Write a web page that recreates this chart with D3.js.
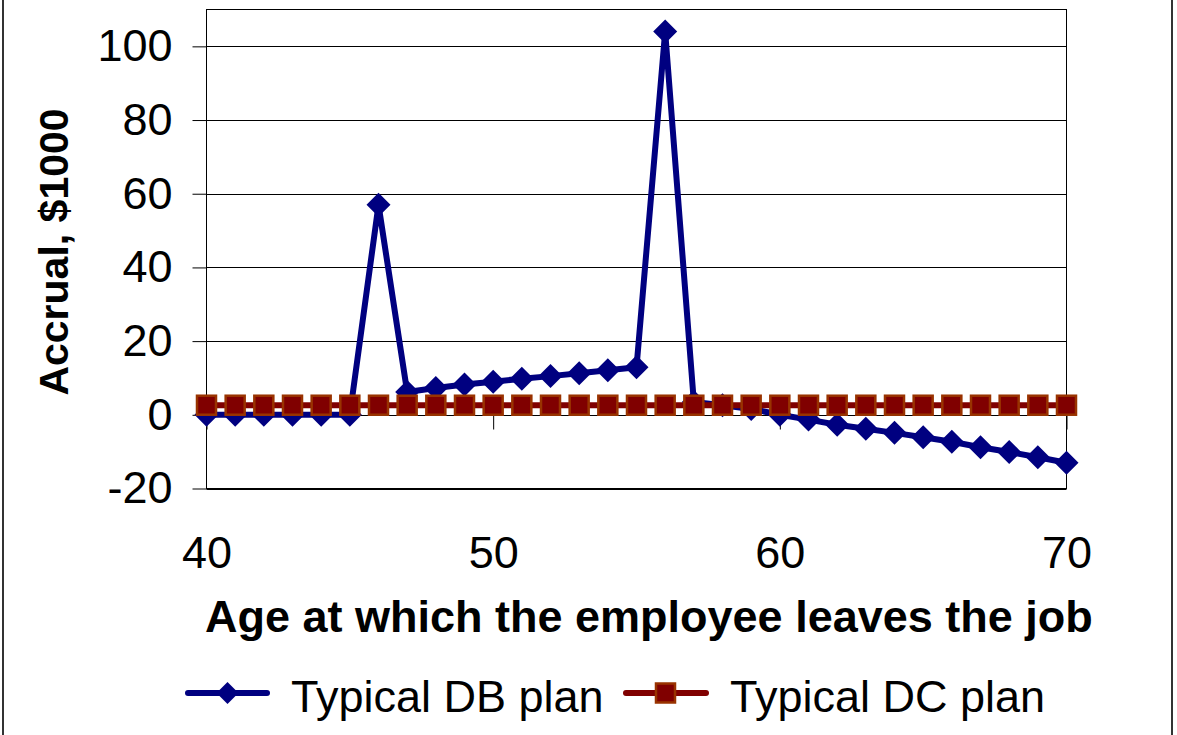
<!DOCTYPE html>
<html>
<head>
<meta charset="utf-8">
<script src="https://cdn.jsdelivr.net/npm/d3@7"></script>
<style>
  html, body { margin: 0; padding: 0; background: #fff; }
  svg { display: block; font-family: "Liberation Sans", Arial, sans-serif; }
</style>
</head>
<body>
<svg id="chart" width="1177" height="735"></svg>
<script>
// ---- data ----
const ages = [40,41,42,43,44,45,46,47,48,49,50,51,52,53,54,55,56,57,58,59,60,61,62,63,64,65,66,67,68,69,70];
const dbValues = [0,0,0,0,0,0,57,6.2,7.3,8.2,9.0,9.8,10.5,11.3,12.1,12.9,104,3.5,2.6,1.6,0,-1.3,-2.7,-3.8,-4.9,-6.1,-7.3,-8.8,-10.1,-11.5,-13];
const dcValues = [2.6,2.6,2.6,2.6,2.6,2.6,2.6,2.6,2.6,2.6,2.6,2.6,2.6,2.6,2.6,2.6,2.6,2.6,2.6,2.6,2.6,2.6,2.6,2.6,2.6,2.6,2.6,2.6,2.6,2.6,2.6];
const xTicks = [40,50,60,70];
const yTicks = [-20,0,20,40,60,80,100];
const seriesNames = ["Typical DB plan","Typical DC plan"];
const xTitle = "Age at which the employee leaves the job";
const yTitle = "Accrual, $1000";

// ---- layout ----
const svg = d3.select("#chart");
const L = 206.5, R = 1066.5, T = 9.5, B = 488.5;
const x = d3.scaleLinear().domain([40,70]).range([L,R]);
const y = d3.scaleLinear().domain([-20,110]).range([B,T]);

const navy = "#000080", maroon = "#800000", brown = "#993300";
const fmt = d => String(d);

// outer border
svg.append("rect").attr("x",3).attr("y",-10).attr("width",1169).attr("height",760)
  .attr("fill","none").attr("stroke","#333").attr("stroke-width",2);

// gridlines
svg.append("g").selectAll("line").data(yTicks).join("line")
  .attr("x1",L).attr("x2",R)
  .attr("y1",d=>Math.round(y(d))+0.5).attr("y2",d=>Math.round(y(d))+0.5)
  .attr("stroke","#000").attr("stroke-width",1);

// plot border
svg.append("rect").attr("x",L).attr("y",T).attr("width",R-L).attr("height",B-T)
  .attr("fill","none").attr("stroke","#000").attr("stroke-width",1);

// y axis
const yAxis = svg.append("g").attr("transform",`translate(${L},0)`)
  .call(d3.axisLeft(y).tickValues(yTicks).tickSize(14).tickPadding(20).tickFormat(fmt));
yAxis.select(".domain").remove();
yAxis.selectAll(".tick line").attr("stroke","#000");
yAxis.selectAll("text").attr("font-size",45).attr("fill","#000").attr("font-family","Liberation Sans, Arial, sans-serif");

// x axis line at y=0 with ticks
const xAxisLine = svg.append("g").attr("transform",`translate(0,${Math.round(y(0))+0.5})`)
  .call(d3.axisBottom(x).tickValues(xTicks).tickSize(14).tickFormat(""));
xAxisLine.select(".domain").attr("stroke","#000").attr("d",`M${L},0H${R}`);
xAxisLine.selectAll(".tick line").attr("stroke","#000");

// x labels at bottom
const xAxisLabels = svg.append("g").attr("transform",`translate(0,${B})`)
  .call(d3.axisBottom(x).tickValues(xTicks).tickSize(0).tickPadding(48).tickFormat(fmt));
xAxisLabels.select(".domain").remove();
xAxisLabels.selectAll("text").attr("font-size",45).attr("fill","#000").attr("font-family","Liberation Sans, Arial, sans-serif");

// titles
svg.append("text").attr("x",205).attr("y",632).attr("font-size",45).attr("font-weight","bold")
  .attr("fill","#000").text(xTitle);
svg.append("text").attr("transform",`translate(68,${(T+B)/2+3}) rotate(-90)`)
  .attr("text-anchor","middle").attr("font-size",41).attr("font-weight","bold")
  .attr("fill","#000").text(yTitle);

// series
function diamondPath(cx, cy, r) {
  return `M${cx},${cy-r}L${cx+r},${cy}L${cx},${cy+r}L${cx-r},${cy}Z`;
}
const line = d3.line().x((d,i)=>x(ages[i])).y(d=>y(d));

const gDB = svg.append("g");
gDB.append("path").attr("d",line(dbValues)).attr("fill","none")
  .attr("stroke",navy).attr("stroke-width",6).attr("stroke-linejoin","round");
gDB.selectAll("path.m").data(dbValues).join("path").attr("class","m")
  .attr("d",(d,i)=>diamondPath(x(ages[i]), y(d), 12)).attr("fill",navy);

const gDC = svg.append("g");
gDC.append("path").attr("d",line(dcValues)).attr("fill","none")
  .attr("stroke",maroon).attr("stroke-width",6);
gDC.selectAll("rect").data(dcValues).join("rect")
  .attr("x",(d,i)=>x(ages[i])-9.5).attr("y",d=>y(d)-9.5)
  .attr("width",19).attr("height",19)
  .attr("fill",maroon).attr("stroke",brown).attr("stroke-width",2.5);

// legend
const ly = 693;
const lg = svg.append("g");
lg.append("line").attr("x1",188).attr("x2",267).attr("y1",ly).attr("y2",ly)
  .attr("stroke",navy).attr("stroke-width",6).attr("stroke-linecap","round");
lg.append("path").attr("d",diamondPath(227.5, ly, 11)).attr("fill",navy);
lg.append("text").attr("x",291).attr("y",712).attr("font-size",45).attr("fill","#000").text(seriesNames[0]);

lg.append("line").attr("x1",626).attr("x2",706).attr("y1",ly).attr("y2",ly)
  .attr("stroke",maroon).attr("stroke-width",6).attr("stroke-linecap","round");
lg.append("rect").attr("x",665.5-9.5).attr("y",ly-9.5).attr("width",19).attr("height",19)
  .attr("fill",maroon).attr("stroke",brown).attr("stroke-width",2.5);
lg.append("text").attr("x",730).attr("y",712).attr("font-size",45).attr("fill","#000").text(seriesNames[1]);
</script>
</body>
</html>
